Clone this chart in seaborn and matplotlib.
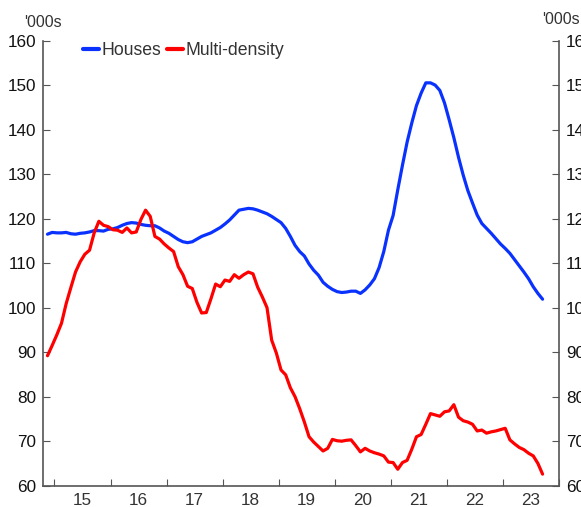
import numpy as np
import pandas as pd
import matplotlib
matplotlib.use('Agg')
import matplotlib.pyplot as plt
import seaborn as sns

# Dados (milhares, mensal, nov/2014 a set/2023)
houses = [116.5, 116.9, 116.8, 116.8, 116.9, 116.6, 116.5, 116.7, 116.8, 117.0,
          117.3, 117.3, 117.2, 117.6, 117.7, 118.0, 118.5, 118.9, 119.1, 119.0,
          118.7, 118.5, 118.4, 118.4, 117.9, 117.2, 116.7, 116.0, 115.3, 114.8,
          114.6, 114.8, 115.4, 116.0, 116.4, 116.8, 117.4, 118.0, 118.8, 119.7,
          120.8, 121.9, 122.1, 122.3, 122.2, 121.9, 121.5, 121.1, 120.5, 119.8,
          119.1, 117.8, 116.0, 114.0, 112.6, 111.6, 109.8, 108.4, 107.3, 105.7,
          104.8, 104.1, 103.6, 103.4, 103.5, 103.7, 103.7, 103.2, 104.0, 105.1,
          106.5, 109.0, 112.6, 117.4, 120.7, 126.5, 132.0, 137.2, 141.5, 145.4,
          148.2, 150.5, 150.5, 150.0, 148.8, 146.0, 142.2, 138.2, 133.8, 129.8,
          126.3, 123.5, 120.8, 118.9, 117.8, 116.7, 115.5, 114.3, 113.3, 112.2,
          110.8, 109.4, 108.0, 106.5, 104.7, 103.2, 101.9]

multi_density = [89.2, 91.5, 93.9, 96.5, 100.9, 104.5, 108.0, 110.3, 112.0, 112.9,
                 116.8, 119.4, 118.5, 118.2, 117.5, 117.4, 116.9, 117.9, 116.8, 117.0,
                 119.8, 121.9, 120.5, 116.0, 115.4, 114.3, 113.4, 112.6, 109.2, 107.4,
                 104.8, 104.3, 101.2, 98.8, 98.9, 102.0, 105.3, 104.7, 106.2, 105.9,
                 107.4, 106.6, 107.4, 108.0, 107.6, 104.6, 102.4, 100.0, 92.7, 89.8,
                 86.0, 84.9, 82.0, 80.0, 77.3, 74.3, 71.0, 69.8, 68.8, 67.8,
                 68.4, 70.4, 70.1, 70.0, 70.2, 70.3, 69.0, 67.6, 68.4, 67.8,
                 67.4, 67.1, 66.7, 65.3, 65.2, 63.7, 65.2, 65.7, 68.2, 71.0,
                 71.5, 73.8, 76.2, 75.9, 75.6, 76.6, 76.8, 78.2, 75.4, 74.6,
                 74.3, 73.8, 72.3, 72.5, 71.8, 72.1, 72.3, 72.6, 72.9, 70.3,
                 69.4, 68.6, 68.1, 67.3, 66.7, 65.0, 62.6]

meses = pd.date_range('2014-11-01', periods=len(houses), freq='MS')
anos = [15, 16, 17, 18, 19, 20, 21, 22, 23]
y_ticks = [60, 70, 80, 90, 100, 110, 120, 130, 140, 150, 160]

# Preparação dos dados: posição no meio do mês em anos decimais
x = meses.year + (meses.month - 0.5) / 12
dados = pd.DataFrame({'x': x, 'Houses': houses, 'Multi-density': multi_density})

# Construção do gráfico
sns.set_style('ticks')
plt.rcParams['font.family'] = ['Liberation Sans', 'DejaVu Sans']

fig = plt.figure(figsize=(5.81, 5.07), dpi=100)
ax = fig.add_axes([0.0745, 0.0420, 0.8875, 0.878])

sns.lineplot(data=dados, x='x', y='Houses', color='#0A32FF', linewidth=2.3, ax=ax, label='Houses')
sns.lineplot(data=dados, x='x', y='Multi-density', color='#FF0000', linewidth=2.3, ax=ax, label='Multi-density')

ax.set_xlim(2014.80, 2024.0)
ax.set_ylim(60, 160)
ax.set_xlabel('')
ax.set_ylabel('')

cinza = '#555555'
tam = 12.3
ax.set_yticks(y_ticks)
ax.set_xticks([2000 + a for a in anos] + [2024])
ax.set_xticklabels([])
ax.set_xticks([2000 + a + 0.5 for a in anos], minor=True)
ax.set_xticklabels([str(a) for a in anos], minor=True)
ax.tick_params(axis='x', which='major', direction='in', length=5, color=cinza)
ax.tick_params(axis='x', which='minor', length=0, pad=5, labelsize=tam, labelcolor='#333333')
ax.tick_params(axis='y', direction='in', length=5, color=cinza, pad=5, labelsize=tam, labelcolor='#111111')

for lado in ['left', 'right', 'bottom']:
    ax.spines[lado].set_color(cinza)
    ax.spines[lado].set_linewidth(1.2)
ax.spines['top'].set_visible(False)

# Eixo da direita (mesma escala)
ax2 = ax.twinx()
ax2.set_ylim(60, 160)
ax2.set_yticks(y_ticks)
ax2.tick_params(axis='y', direction='in', length=5, color=cinza, pad=5, labelsize=tam, labelcolor='#111111')
for lado in ['left', 'right', 'bottom', 'top']:
    ax2.spines[lado].set_visible(False)

fig.text(0.0731, 0.9566, "'000s", ha='center', va='center', fontsize=11.5, color='#333333')
fig.text(0.9656, 0.9625, "'000s", ha='center', va='center', fontsize=11.5, color='#333333')

leg = ax.legend(loc='center left', bbox_to_anchor=(0.0776, 0.977), ncol=2, frameon=False,
                borderaxespad=0, borderpad=0,
                handlelength=0.9, handletextpad=0.15, columnspacing=0.3, fontsize=12.7)
for t in leg.get_texts():
    t.set_color('#333333')
for h in leg.get_lines():
    h.set_linewidth(3)

plt.savefig('out.png', dpi=100)
